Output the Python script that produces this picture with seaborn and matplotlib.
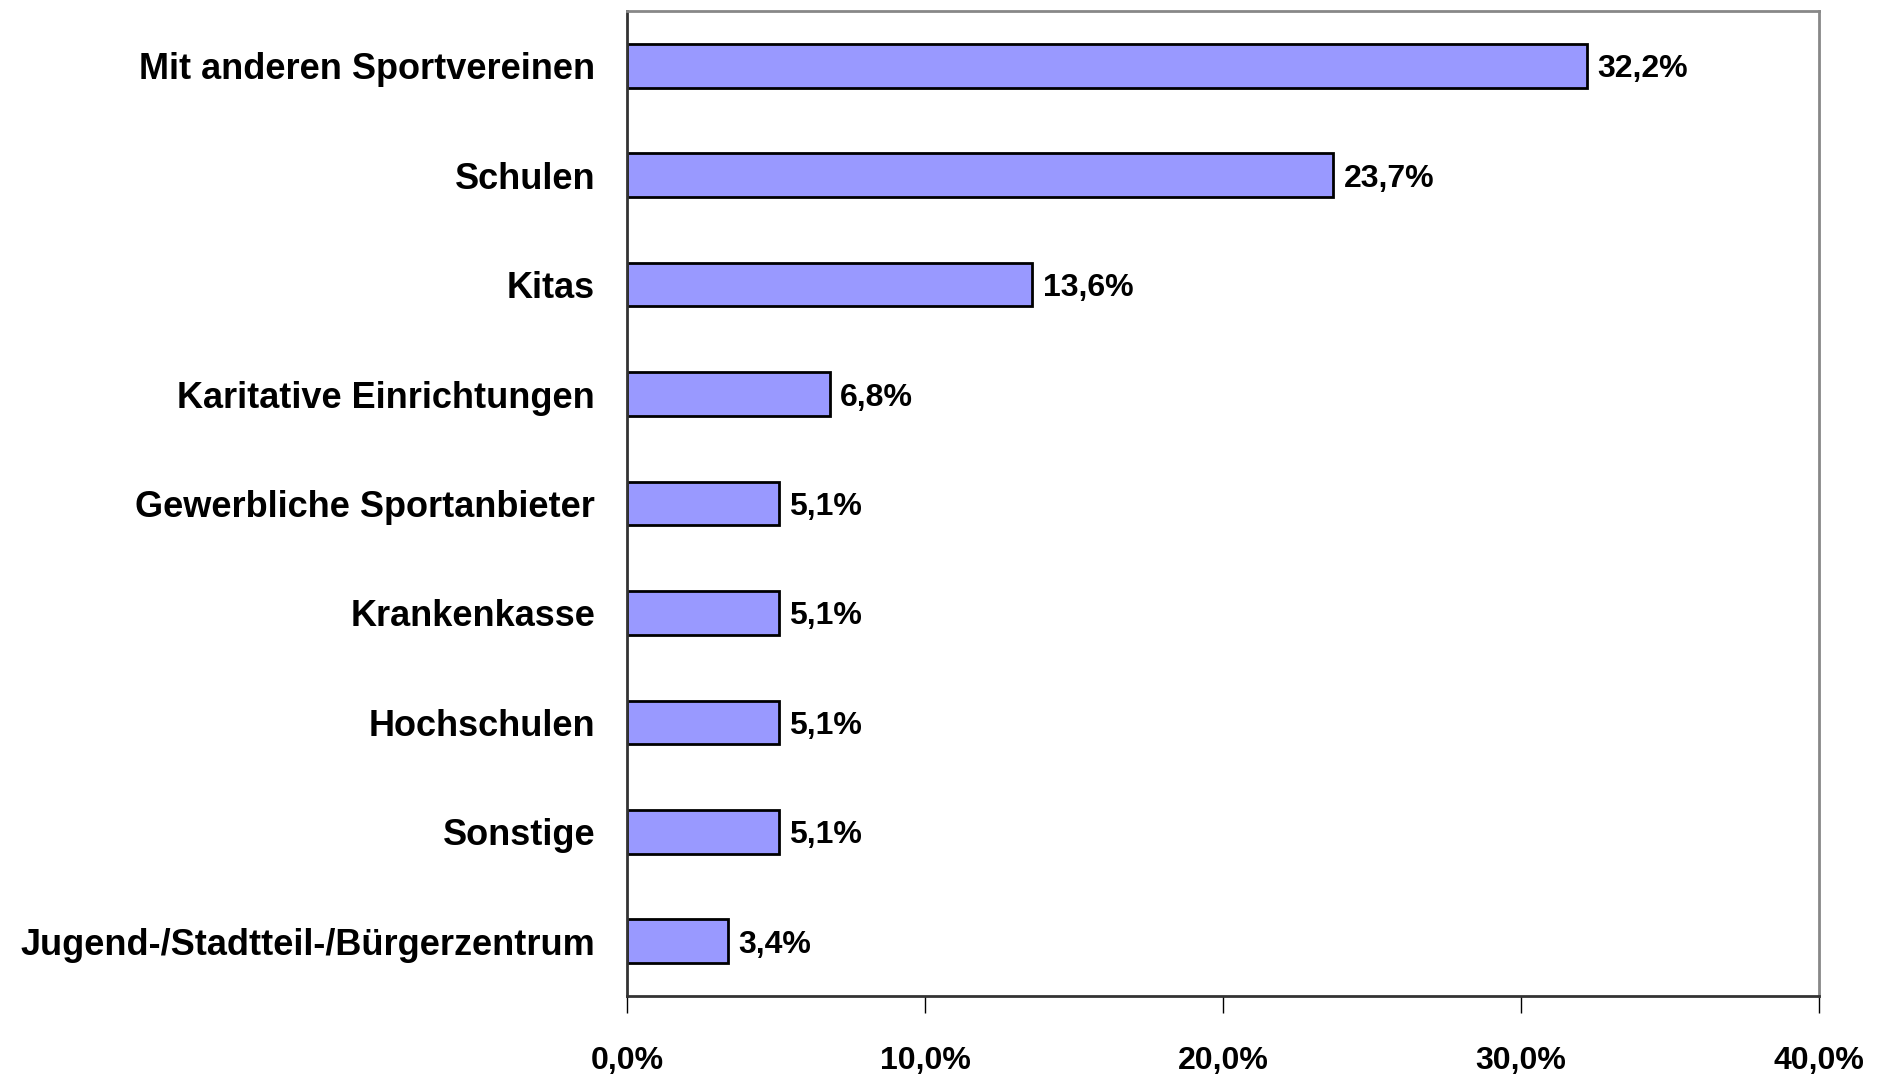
import matplotlib.pyplot as plt
import pandas as pd
import seaborn as sns

categories = ["Mit anderen Sportvereinen", "Schulen", "Kitas", "Karitative Einrichtungen",
              "Gewerbliche Sportanbieter", "Krankenkasse", "Hochschulen", "Sonstige",
              "Jugend-/Stadtteil-/Bürgerzentrum"]
values = [32.2, 23.7, 13.6, 6.8, 5.1, 5.1, 5.1, 5.1, 3.4]
x_ticks = [0, 10, 20, 30, 40]

sns.set_style("white")
plt.rcParams['font.family'] = ['Liberation Sans Narrow', 'Liberation Sans', 'DejaVu Sans']
plt.rcParams['text.color'] = 'black'

df = pd.DataFrame({"Kategorie": categories, "Anteil": values})

fig = plt.figure(figsize=(18.84, 10.74), dpi=100)
ax = fig.add_axes([0.3328, 0.0726, 0.6327, 0.9172])

sns.barplot(data=df, x="Anteil", y="Kategorie", orient="h", color="#9999ff",
            saturation=1, width=0.4, edgecolor="black", linewidth=2, ax=ax)

# Wertebeschriftung rechts neben den Balken
for i, v in enumerate(values):
    ax.text(v + 0.35, i, f"{v:.1f}%".replace(".", ","), va="center_baseline", ha="left",
            fontsize=23, fontweight="bold", color="black")

ax.set_xlim(0, 40)
ax.set_ylim(8.5, -0.5)
ax.set_xticks(x_ticks)
ax.set_xticklabels([f"{t:.1f}%".replace(".", ",") for t in x_ticks], fontsize=23, fontweight="bold")
ax.tick_params(axis="x", direction="out", length=12, width=1, pad=24, colors="black", bottom=True)
ax.tick_params(axis="y", length=0, pad=23, colors="black")
for lbl in ax.get_yticklabels():
    lbl.set_fontsize(26)
    lbl.set_fontweight("bold")
ax.set_xlabel("")
ax.set_ylabel("")
for side in ["top", "right"]:
    ax.spines[side].set_color("#888888")
    ax.spines[side].set_linewidth(2)
for side in ["left", "bottom"]:
    ax.spines[side].set_color("#333333")
    ax.spines[side].set_linewidth(2)

fig.savefig("out.png", dpi=100)
